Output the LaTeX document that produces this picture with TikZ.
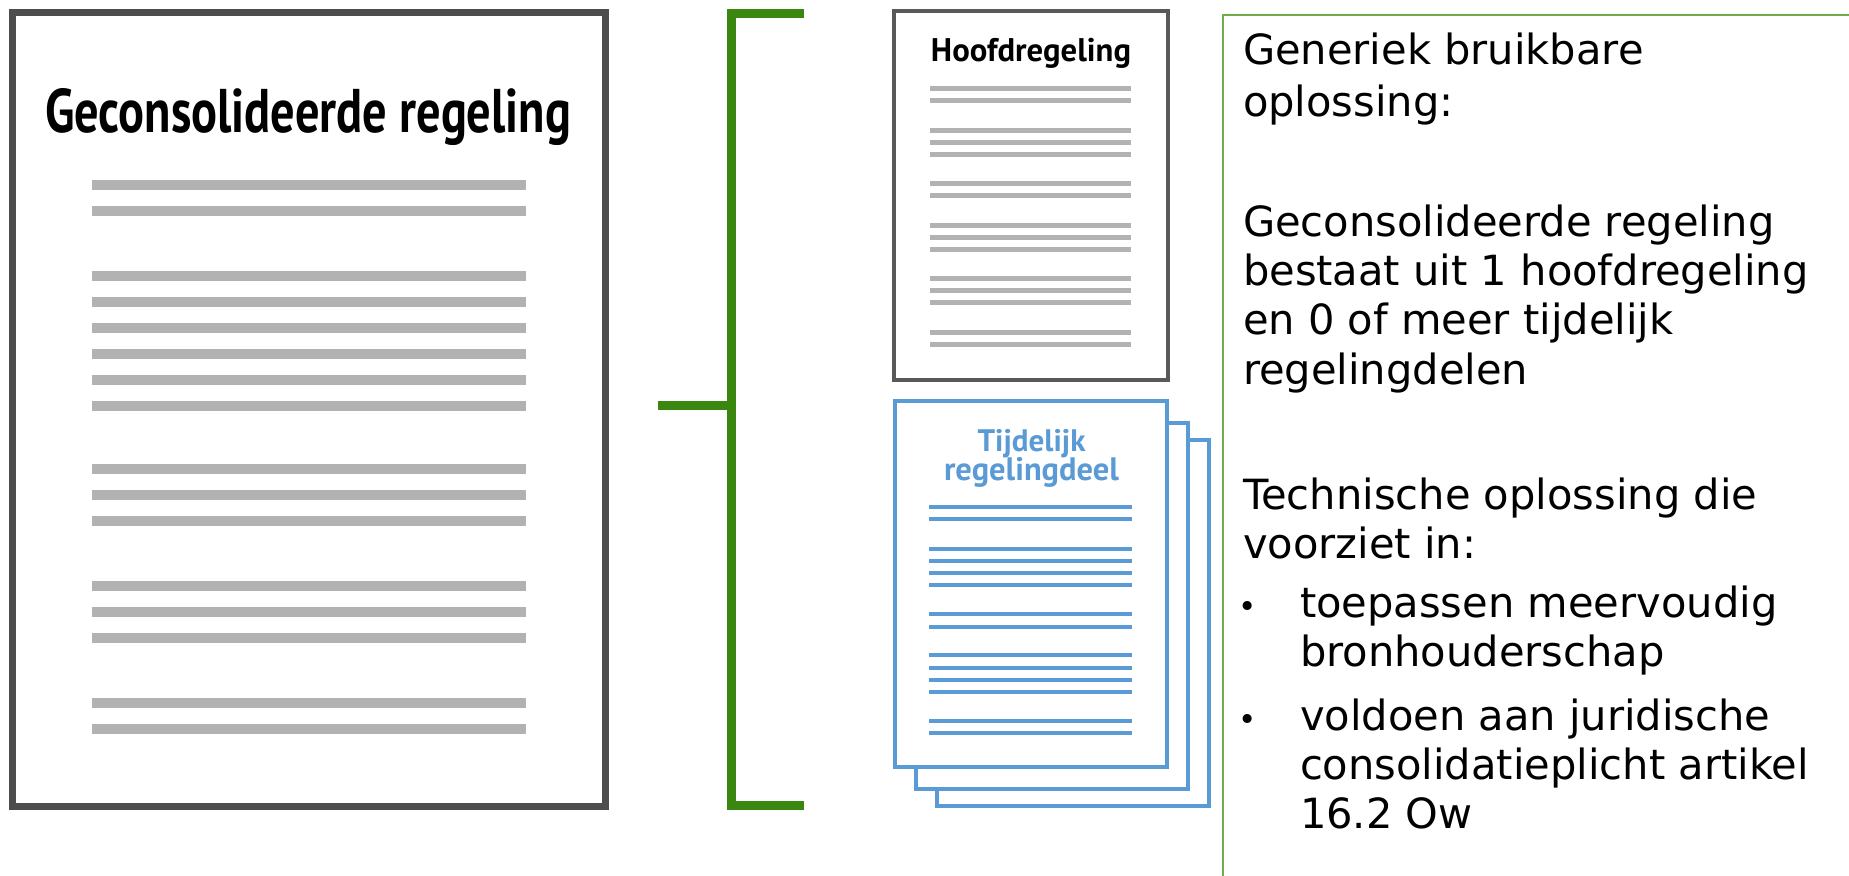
\documentclass[tikz,border=0pt]{standalone}
\usepackage{fontspec}
\usepackage{graphicx}
\newfontfamily\verd{DejaVu Sans}
\newfontfamily\ptsans{PT Sans}
\definecolor{docgray}{RGB}{77,77,77}
\definecolor{hoofgray}{RGB}{89,89,89}
\definecolor{linegray}{RGB}{178,178,178}
\definecolor{pageblue}{RGB}{91,155,213}
\definecolor{brgreen}{RGB}{58,135,16}
\definecolor{boxgreen}{RGB}{112,173,71}
\tikzset{
  frame/.style={rectangle, inner sep=0pt, outer sep=0pt, fill=white},
  grayline/.style={draw=linegray, line cap=butt},
  blueline/.style={draw=pageblue, line width=4.5pt, line cap=butt},
  bracket/.style={draw=brgreen, line width=9pt, line join=miter, line cap=butt},
  rtext/.style={anchor=base west, inner sep=0pt, outer sep=0pt, font=\verd\fontsize{41.6}{49}\selectfont},
  btext/.style={anchor=base, inner sep=0pt, outer sep=0pt, font=\verd\fontsize{31}{36}\selectfont},
  lbl/.style={anchor=base, inner sep=0pt, outer sep=0pt}
}
\begin{document}
\begin{tikzpicture}[x=1pt,y=-1pt]
\useasboundingbox (0,0) rectangle (1849,875);
\fill[white] (0,0) rectangle (1849,875);

% left consolidated document
\node[frame, draw=docgray, line width=7pt, minimum width=593pt, minimum height=794pt] (cons) at (309,409.5) {};
\node[lbl] (constitle) at (308,132) {\resizebox{526pt}{44pt}{\ptsans\bfseries Geconsolideerde regeling}};
\foreach \y in {185,211,276,302,328,354,380,406,469,495,521,586,612,638,703,729}
  \draw[grayline, line width=10pt] (92,\y) -- (526,\y);

% green bracket
\coordinate (btop) at (804,14);
\coordinate (bbot) at (804,805);
\coordinate (bstub) at (658,405);
\coordinate (bmid) at (731,405);
\draw[bracket] (btop) -- (731,14) -- (731,805) -- (bbot);
\draw[bracket] (bstub) -- (bmid);

% Hoofdregeling
\node[frame, draw=hoofgray, line width=4pt, minimum width=274pt, minimum height=369pt] (hoofd) at (1031,195.5) {};
\node[lbl] (hooftitle) at (1031,62) {\resizebox{200pt}{!}{\ptsans\bfseries Hoofdregeling}};
\foreach \y in {88,100,130,142,154,183,195,225,237,249,278,290,302,332,344}
  \draw[grayline, line width=5pt] (930,\y) -- (1131,\y);

% Tijdelijk regelingdeel stack
\node[frame, draw=pageblue, line width=4pt, minimum width=272pt, minimum height=366pt] (tp3) at (1073,623) {};
\node[frame, draw=pageblue, line width=4pt, minimum width=272pt, minimum height=366pt] (tp2) at (1052,606) {};
\node[frame, draw=pageblue, line width=4pt, minimum width=272pt, minimum height=366pt] (tp1) at (1031,584) {};
\node[lbl, text=pageblue] (tijd1) at (1031.5,451) {\resizebox{108pt}{!}{\ptsans\bfseries Tijdelijk}};
\node[lbl, text=pageblue] (tijd2) at (1031.5,480) {\resizebox{175pt}{!}{\ptsans\bfseries regelingdeel}};
\foreach \y in {507,519,549,561,573,585,614,627,655,668,680,692,721,733}
  \draw[blueline] (929,\y) -- (1132,\y);

% right text box
\coordinate (rb1) at (1223,880);
\coordinate (rb2) at (1223,15);
\coordinate (rb3) at (1860,15);
\draw[draw=boxgreen, line width=2.5pt] (rb1) -- (rb2) -- (rb3);

\node[rtext] (t1) at (1243,65) {Generiek bruikbare};
\node[rtext] (t2) at (1243,116) {oplossing:};
\node[rtext] (t3) at (1243,236) {Geconsolideerde regeling};
\node[rtext] (t4) at (1243,285.5) {bestaat uit 1 hoofdregeling};
\node[rtext] (t5) at (1243,334.5) {en 0 of meer tijdelijk};
\node[rtext] (t6) at (1243,384) {regelingdelen};
\node[rtext] (t7) at (1243,509) {Technische oplossing die};
\node[rtext] (t8) at (1243,558) {voorziet in:};
\node[btext] (b1) at (1248,617) {•};
\node[rtext] (t9) at (1300,617) {toepassen meervoudig};
\node[rtext] (t10) at (1300,666) {bronhouderschap};
\node[btext] (b2) at (1248,730) {•};
\node[rtext] (t11) at (1300,730) {voldoen aan juridische};
\node[rtext] (t12) at (1300,779) {consolidatieplicht artikel};
\node[rtext] (t13) at (1300,828) {16.2 Ow};
\end{tikzpicture}
\end{document}
